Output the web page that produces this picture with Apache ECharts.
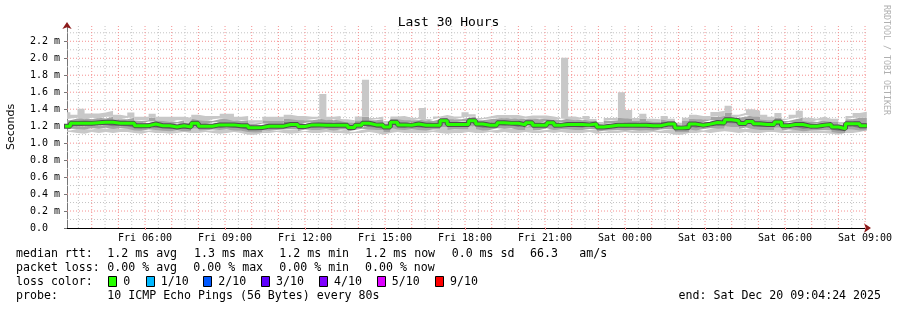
<!DOCTYPE html>
<html><head><meta charset="utf-8">
<script src="https://cdn.jsdelivr.net/npm/echarts@6/dist/echarts.min.js"></script>
<style>html,body{margin:0;padding:0;background:#fff}#c{width:897px;height:310px}</style>
</head><body><div id="c"></div>
<script>
// ---------- data (ms), one value per 16-minute bucket starting Fri 02:56 ----------
const bucketMinutes = 16;
const median = [1.20,1.235,1.235,1.235,1.24,1.245,1.245,1.235,1.235,1.235,
 1.205,1.205,1.225,1.205,1.205,1.19,1.205,1.19,1.235,1.20,
 1.20,1.215,1.215,1.215,1.205,1.205,1.18,1.185,1.20,1.20,
 1.20,1.22,1.22,1.195,1.215,1.215,1.21,1.21,1.21,1.21,
 1.185,1.21,1.235,1.215,1.215,1.19,1.245,1.215,1.21,1.225,
 1.21,1.21,1.21,1.263,1.22,1.22,1.22,1.263,1.225,1.21,
 1.21,1.24,1.235,1.235,1.215,1.24,1.21,1.21,1.24,1.21,
 1.22,1.22,1.22,1.215,1.225,1.19,1.20,1.21,1.21,1.21,
 1.21,1.21,1.205,1.205,1.224,1.224,1.177,1.185,1.224,1.21,
 1.224,1.243,1.236,1.275,1.264,1.232,1.256,1.228,1.22,1.22,
 1.248,1.204,1.22,1.22,1.20,1.20,1.21,1.22,1.19,1.17,
 1.228,1.228,1.204];
const maxRtt = [1.365,1.335,1.405,1.35,1.35,1.36,1.38,1.335,1.32,1.36,
 1.31,1.31,1.345,1.31,1.31,1.31,1.31,1.30,1.335,1.32,
 1.32,1.32,1.345,1.345,1.31,1.32,1.27,1.27,1.31,1.31,
 1.31,1.335,1.32,1.32,1.31,1.31,1.58,1.31,1.32,1.28,
 1.27,1.314,1.747,1.295,1.315,1.26,1.315,1.32,1.30,1.295,
 1.413,1.285,1.315,1.33,1.315,1.315,1.364,1.34,1.295,1.315,
 1.33,1.33,1.33,1.33,1.315,1.325,1.325,1.325,1.315,1.295,
 2.007,1.315,1.295,1.32,1.285,1.25,1.295,1.30,1.60,1.39,
 1.295,1.346,1.287,1.28,1.32,1.287,1.24,1.30,1.334,1.32,
 1.32,1.366,1.38,1.44,1.334,1.354,1.40,1.38,1.334,1.31,
 1.354,1.287,1.334,1.38,1.30,1.287,1.31,1.287,1.287,1.25,
 1.32,1.354,1.37];
const minRtt = [1.13,1.13,1.12,1.11,1.13,1.12,1.13,1.12,1.13,1.13,
 1.12,1.11,1.13,1.12,1.12,1.11,1.12,1.13,1.12,1.12,
 1.13,1.12,1.11,1.12,1.13,1.12,1.10,1.10,1.12,1.12,
 1.13,1.12,1.11,1.12,1.13,1.12,1.12,1.13,1.12,1.12,
 1.11,1.12,1.12,1.13,1.12,1.10,1.12,1.13,1.12,1.12,
 1.12,1.12,1.13,1.12,1.11,1.12,1.12,1.13,1.12,1.12,
 1.13,1.12,1.13,1.12,1.12,1.13,1.12,1.12,1.13,1.12,
 1.13,1.12,1.12,1.12,1.13,1.11,1.12,1.12,1.12,1.13,
 1.12,1.12,1.12,1.13,1.12,1.12,1.10,1.10,1.12,1.12,
 1.13,1.12,1.13,1.14,1.13,1.12,1.13,1.12,1.12,1.13,
 1.13,1.12,1.12,1.12,1.12,1.12,1.12,1.12,1.11,1.10,
 1.12,1.12,1.13];
const hi2 = [1.27,1.29,1.30,1.28,1.30,1.29,1.31,1.28,1.28,1.30,
 1.26,1.27,1.30,1.27,1.26,1.25,1.27,1.24,1.29,1.27,
 1.26,1.28,1.29,1.28,1.26,1.27,1.23,1.24,1.27,1.26,
 1.26,1.29,1.28,1.27,1.27,1.28,1.29,1.27,1.28,1.26,
 1.24,1.27,1.31,1.27,1.28,1.23,1.29,1.28,1.27,1.27,
 1.28,1.26,1.28,1.30,1.28,1.28,1.30,1.31,1.27,1.28,
 1.29,1.30,1.29,1.30,1.28,1.29,1.28,1.29,1.28,1.27,
 1.29,1.28,1.27,1.28,1.26,1.23,1.26,1.27,1.30,1.29,
 1.26,1.29,1.26,1.25,1.28,1.26,1.21,1.26,1.29,1.28,
 1.28,1.31,1.32,1.36,1.30,1.31,1.33,1.31,1.28,1.27,
 1.30,1.26,1.28,1.30,1.26,1.25,1.27,1.26,1.25,1.22,
 1.28,1.30,1.30];
const hi3 = [1.225,1.26,1.265,1.26,1.265,1.27,1.275,1.26,1.255,1.265,
 1.23,1.235,1.255,1.23,1.23,1.215,1.235,1.215,1.26,1.23,
 1.225,1.245,1.245,1.24,1.23,1.235,1.205,1.21,1.23,1.225,
 1.225,1.25,1.245,1.225,1.24,1.245,1.24,1.235,1.24,1.235,
 1.21,1.235,1.27,1.24,1.245,1.215,1.27,1.245,1.235,1.25,
 1.24,1.235,1.24,1.285,1.245,1.245,1.255,1.285,1.25,1.24,
 1.24,1.265,1.26,1.265,1.24,1.265,1.24,1.24,1.26,1.235,
 1.25,1.245,1.245,1.24,1.245,1.21,1.225,1.235,1.24,1.24,
 1.235,1.24,1.23,1.225,1.25,1.245,1.195,1.21,1.25,1.24,
 1.25,1.27,1.265,1.30,1.285,1.26,1.285,1.255,1.245,1.24,
 1.27,1.23,1.245,1.25,1.225,1.225,1.235,1.24,1.215,1.195,
 1.25,1.255,1.235];
const lo3 = [1.175,1.20,1.20,1.205,1.205,1.21,1.21,1.20,1.205,1.20,
 1.18,1.175,1.195,1.18,1.175,1.165,1.18,1.165,1.20,1.175,
 1.175,1.19,1.185,1.19,1.18,1.175,1.155,1.16,1.175,1.175,
 1.18,1.19,1.195,1.17,1.19,1.185,1.185,1.185,1.18,1.185,
 1.16,1.185,1.205,1.19,1.185,1.165,1.215,1.19,1.185,1.195,
 1.185,1.18,1.185,1.23,1.19,1.195,1.19,1.235,1.20,1.18,
 1.185,1.21,1.205,1.21,1.19,1.21,1.18,1.185,1.21,1.185,
 1.19,1.195,1.19,1.185,1.20,1.165,1.175,1.18,1.185,1.18,
 1.185,1.18,1.18,1.175,1.195,1.195,1.15,1.16,1.195,1.18,
 1.195,1.21,1.205,1.24,1.235,1.20,1.225,1.20,1.19,1.19,
 1.215,1.175,1.19,1.19,1.17,1.175,1.18,1.19,1.16,1.145,
 1.20,1.195,1.175];
const lo2 = [1.15,1.17,1.165,1.16,1.175,1.17,1.18,1.165,1.175,1.17,
 1.15,1.145,1.16,1.155,1.145,1.14,1.15,1.14,1.17,1.145,
 1.15,1.16,1.155,1.16,1.15,1.145,1.13,1.125,1.15,1.145,
 1.155,1.16,1.165,1.14,1.16,1.155,1.155,1.16,1.15,1.16,
 1.135,1.155,1.17,1.16,1.155,1.13,1.18,1.16,1.155,1.16,
 1.155,1.15,1.16,1.19,1.155,1.16,1.16,1.195,1.165,1.15,
 1.155,1.175,1.17,1.175,1.155,1.18,1.15,1.155,1.175,1.155,
 1.16,1.16,1.155,1.155,1.165,1.135,1.145,1.15,1.155,1.15,
 1.155,1.15,1.15,1.145,1.16,1.165,1.125,1.125,1.16,1.15,
 1.165,1.175,1.17,1.20,1.19,1.165,1.185,1.165,1.155,1.155,
 1.18,1.145,1.16,1.155,1.14,1.145,1.15,1.155,1.13,1.12,
 1.165,1.16,1.15];

// axis ticks / labels
const yTickValues = [0, 0.2, 0.4, 0.6, 0.8, 1.0, 1.2, 1.4, 1.6, 1.8, 2.0, 2.2];
const xTickLabels = ['Fri 06:00','Fri 09:00','Fri 12:00','Fri 15:00','Fri 18:00','Fri 21:00','Sat 00:00','Sat 03:00','Sat 06:00','Sat 09:00'];
const xTickDays  = [19,19,19,19,19,19,20,20,20,20];
const xTickHours = [6,9,12,15,18,21,0,3,6,9];

// legend texts
const statsRtt  = ['1.2 ms avg','1.3 ms max','1.2 ms min','1.2 ms now','0.0 ms sd','66.3','am/s'];
const statsLoss = ['0.00 % avg','0.00 % max','0.00 % min','0.00 % now'];
const lossNames  = ['0','1/10','2/10','3/10','4/10','5/10','9/10'];
const lossColors = ['#26ff00','#00b8ff','#0059ff','#5e00ff','#7e00ff','#dd00ff','#ff0000'];

// ---------- build ----------
const t0 = new Date(2025, 11, 19, 2, 56, 0).getTime();
const stepMs = bucketMinutes * 60000;
const xMin = new Date(2025, 11, 19, 3, 4, 24).getTime();
const xMax = new Date(2025, 11, 20, 9, 4, 24).getTime();
const yMax = 2.38;
const N = median.length;
function pts(arr) {
  const d = [];
  for (let k = 0; k < N; k++) d.push([t0 + k * stepMs, arr[k]]);
  d.push([t0 + N * stepMs, arr[N - 1]]);
  return d;
}
function diff(a, b) { return a.map((v, i) => Math.max(0, +(v - b[i]).toFixed(4))); }
const xTickTimes = xTickDays.map((d, i) => new Date(2025, 11, d, xTickHours[i], 0, 0).getTime());

function layer(name, arr, color) {
  return { name, type: 'line', stack: 'smoke', step: 'end', data: pts(arr), symbol: 'none', showSymbol: false,
    color: color || '#ffffff',
    lineStyle: { width: 0, color: color || '#ffffff' },
    areaStyle: color ? { color: color, opacity: 1 } : { opacity: 0 },
    silent: true, z: 2, animation: false };
}

const c1 = '#c8c8c8', c2 = '#a4a4a4', c3 = '#7e7e7e';
const series = [
  layer('min', minRtt, null),
  layer('b1', diff(lo2, minRtt), c1),
  layer('b2', diff(lo3, lo2), c2),
  layer('b3', diff(median, lo3), c3),
  layer('b4', diff(hi3, median), c3),
  layer('b5', diff(hi2, hi3), c2),
  layer('b6', diff(maxRtt, hi2), c1)
];

// grid lines: one line series per colour, segments separated by gaps
const majorCol = '#f59090', minorCol = '#c4c4c4';
const glMajor = [], glMinor = [];
const hourStart = new Date(2025, 11, 19, 3, 30, 0).getTime();
for (let t = hourStart; t < xMax; t += 30 * 60000) {
  const g = new Date(t).getMinutes() === 0 ? glMajor : glMinor;
  g.push([t, 0], [t, yMax], [t, '-']);
}
for (let i = 1; i <= 23; i++) {
  const v = i / 10;
  const g = i % 2 === 0 ? glMajor : glMinor;
  g.push([xMin, v], [xMax, v], [xMax, '-']);
}
function gridSeries(name, data, color) {
  return { name, type: 'line', data: data, symbol: 'none', showSymbol: false, connectNulls: false,
    silent: true, z: 1, animation: false, clip: true, color: color,
    lineStyle: { color: color, type: [1, 2], width: 1, opacity: 1 } };
}
series.push(gridSeries('gridMinor', glMinor, minorCol));
series.push(gridSeries('gridMajor', glMajor, majorCol));
series.push({ name: 'medianShade', type: 'line', step: 'end', data: pts(median), symbol: 'none', showSymbol: false,
  lineStyle: { width: 5, color: '#505050' }, silent: true, z: 4, animation: false });
series.push({ name: 'median', type: 'line', step: 'end', data: pts(median), symbol: 'none', showSymbol: false,
  lineStyle: { width: 3, color: '#26ff00' }, silent: true, z: 5, animation: false });

const mono = '"DejaVu Sans Mono", monospace';
const F = '11.6px ' + mono;
const graphic = [];
function txt(x, y, s, align) {
  graphic.push({ type: 'text', x, y, silent: true, z: 100,
    style: { text: s, font: F, fill: '#000', align: align || 'left', verticalAlign: 'middle' } });
}
graphic.push({ type: 'text', x: 11, y: 127, rotation: Math.PI / 2, silent: true,
  style: { text: 'Seconds', font: '11px "DejaVu Sans", sans-serif', fill: '#000', align: 'center', verticalAlign: 'middle' } });
graphic.push({ type: 'text', x: 886, y: 5, rotation: -Math.PI / 2, silent: true,
  style: { text: 'RRDTOOL / TOBI OETIKER', font: '8.3px ' + mono, fill: '#b0b0b0', align: 'left', verticalAlign: 'middle' } });
const rttX = [107.3, 194, 279.3, 365.3, 451.7, 530, 579.3];
txt(16, 254.3, 'median rtt:');
statsRtt.forEach((s, i) => txt(rttX[i], 254.3, s));
const lossX = [107.3, 193.3, 279.3, 365];
txt(16, 268.3, 'packet loss:');
statsLoss.forEach((s, i) => txt(lossX[i], 268.3, s));
txt(16, 282, 'loss color:');
const boxX = [108.3, 145.7, 203.3, 261, 319, 376.7, 435];
lossNames.forEach((s, i) => {
  graphic.push({ type: 'rect', silent: true, shape: { x: Math.round(boxX[i]) + 0.5, y: 276.5, width: 8, height: 10 },
    style: { fill: lossColors[i], stroke: '#000', lineWidth: 1 } });
  txt(boxX[i] + 15, 282, s);
});
txt(16, 296, 'probe:');
txt(107.3, 296, '10 ICMP Echo Pings (56 Bytes) every 80s');
txt(881, 296, 'end: Sat Dec 20 09:04:24 2025', 'right');

const chart = echarts.init(document.getElementById('c'), null, { renderer: 'canvas' });
chart.setOption({
  animation: false,
  backgroundColor: '#ffffff',
  title: { text: 'Last 30 Hours', left: 'center', top: 11, textStyle: { fontFamily: mono, fontSize: 13, fontWeight: 'normal', color: '#000' } },
  grid: { left: 67, right: 30, top: 26, bottom: 82, containLabel: false },
  xAxis: [
    { type: 'time', min: xMin, max: xMax,
      axisLine: { show: true, onZero: false, lineStyle: { color: '#000', width: 1 } },
      axisTick: { show: false }, axisLabel: { show: false }, splitLine: { show: false }, minorSplitLine: { show: false } },
    { type: 'value', min: xMin, max: xMax, scale: true, position: 'bottom',
      axisLine: { show: true, onZero: false, symbol: ['none', 'arrow'], symbolSize: [7, 7], symbolOffset: [0, 4], lineStyle: { color: '#8b1a1a', width: 0 } },
      axisTick: { show: true, customValues: xTickTimes, length: 2, lineStyle: { color: majorCol, width: 1 } },
      axisLabel: { show: true, customValues: xTickTimes, hideOverlap: false, margin: 5,
        formatter: (v) => { const i = xTickTimes.indexOf(v); return i >= 0 ? xTickLabels[i] : ''; },
        fontFamily: mono, fontSize: 10, color: '#000' },
      splitLine: { show: false }, minorSplitLine: { show: false } }
  ],
  yAxis: [
    { type: 'value', min: 0, max: yMax,
      axisLine: { show: true, onZero: false, lineStyle: { color: '#777', width: 1 } },
      axisTick: { show: true, customValues: yTickValues, length: 3, lineStyle: { color: '#777' } },
      axisLabel: { show: true, customValues: yTickValues, margin: 7, fontFamily: mono, fontSize: 10, color: '#000',
        formatter: (v) => v === 0 ? '0.0  ' : v.toFixed(1) + ' m' },
      splitLine: { show: false }, minorSplitLine: { show: false } },
    { type: 'value', min: 0, max: yMax, position: 'left',
      axisLine: { show: true, onZero: false, symbol: ['none', 'arrow'], symbolSize: [7, 7], symbolOffset: [0, 4], lineStyle: { color: '#8b1a1a', width: 0 } },
      axisTick: { show: false }, axisLabel: { show: false }, splitLine: { show: false }, minorSplitLine: { show: false } }
  ],
  series,
  graphic
});
</script></body></html>
